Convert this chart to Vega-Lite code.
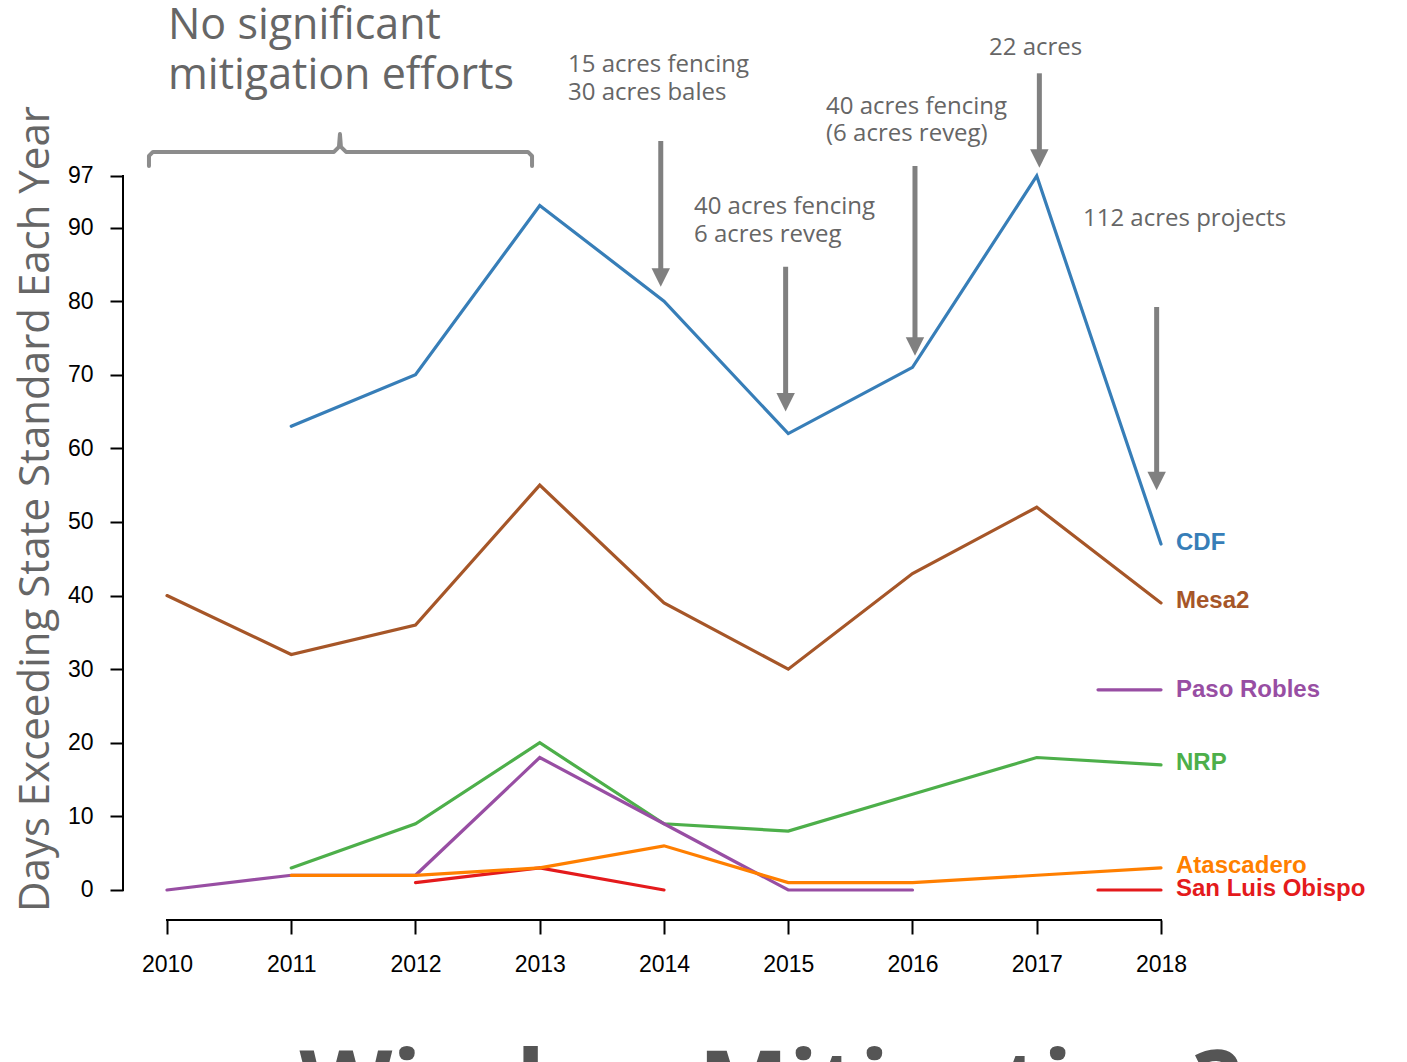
{
  "$schema": "https://vega.github.io/schema/vega-lite/v6.json",
  "width": 1038,
  "height": 910,
  "autosize": "none",
  "padding": {"left": 123, "top": 10, "right": 246, "bottom": 142},
  "background": "white",
  "config": {"view": {"stroke": null}},
  "datasets": {
    "series": [
      {"site": "CDF", "year": 2011, "days": 63},
      {"site": "CDF", "year": 2012, "days": 70},
      {"site": "CDF", "year": 2013, "days": 93},
      {"site": "CDF", "year": 2014, "days": 80},
      {"site": "CDF", "year": 2015, "days": 62},
      {"site": "CDF", "year": 2016, "days": 71},
      {"site": "CDF", "year": 2017, "days": 97},
      {"site": "CDF", "year": 2018, "days": 47},
      {"site": "Mesa2", "year": 2010, "days": 40},
      {"site": "Mesa2", "year": 2011, "days": 32},
      {"site": "Mesa2", "year": 2012, "days": 36},
      {"site": "Mesa2", "year": 2013, "days": 55},
      {"site": "Mesa2", "year": 2014, "days": 39},
      {"site": "Mesa2", "year": 2015, "days": 30},
      {"site": "Mesa2", "year": 2016, "days": 43},
      {"site": "Mesa2", "year": 2017, "days": 52},
      {"site": "Mesa2", "year": 2018, "days": 39},
      {"site": "NRP", "year": 2011, "days": 3},
      {"site": "NRP", "year": 2012, "days": 9},
      {"site": "NRP", "year": 2013, "days": 20},
      {"site": "NRP", "year": 2014, "days": 9},
      {"site": "NRP", "year": 2015, "days": 8},
      {"site": "NRP", "year": 2016, "days": 13},
      {"site": "NRP", "year": 2017, "days": 18},
      {"site": "NRP", "year": 2018, "days": 17},
      {"site": "Paso Robles", "year": 2010, "days": 0},
      {"site": "Paso Robles", "year": 2011, "days": 2},
      {"site": "Paso Robles", "year": 2012, "days": 2},
      {"site": "Paso Robles", "year": 2013, "days": 18},
      {"site": "Paso Robles", "year": 2014, "days": 9},
      {"site": "Paso Robles", "year": 2015, "days": 0},
      {"site": "Paso Robles", "year": 2016, "days": 0},
      {"site": "San Luis Obispo", "year": 2012, "days": 1},
      {"site": "San Luis Obispo", "year": 2013, "days": 3},
      {"site": "San Luis Obispo", "year": 2014, "days": 0},
      {"site": "Atascadero", "year": 2011, "days": 2},
      {"site": "Atascadero", "year": 2012, "days": 2},
      {"site": "Atascadero", "year": 2013, "days": 3},
      {"site": "Atascadero", "year": 2014, "days": 6},
      {"site": "Atascadero", "year": 2015, "days": 1},
      {"site": "Atascadero", "year": 2016, "days": 1},
      {"site": "Atascadero", "year": 2017, "days": 2},
      {"site": "Atascadero", "year": 2018, "days": 3}
    ],
    "keys": [
      {"site": "Paso Robles", "year": 2017.493, "days": 27.2},
      {"site": "Paso Robles", "year": 2018, "days": 27.2},
      {"site": "San Luis Obispo", "year": 2017.493, "days": 0},
      {"site": "San Luis Obispo", "year": 2018, "days": 0}
    ],
    "labels": [
      {"site": "CDF", "year": 2018, "days": 47.2},
      {"site": "Mesa2", "year": 2018, "days": 39.2},
      {"site": "Paso Robles", "year": 2018, "days": 27.2},
      {"site": "NRP", "year": 2018, "days": 17.2},
      {"site": "Atascadero", "year": 2018, "days": 3.2},
      {"site": "San Luis Obispo", "year": 2018, "days": 0.2}
    ],
    "arrows": [
      {"year": 2013.974, "top": 101.75, "head": 83.21},
      {"year": 2014.979, "top": 84.68, "head": 66.25},
      {"year": 2016.02, "top": 98.36, "head": 73.84},
      {"year": 2017.021, "top": 110.95, "head": 99.38},
      {"year": 2017.965, "top": 79.2, "head": 55.56}
    ],
    "notes": [
      {"text": "15 acres fencing", "year": 2013.227, "days": 111.13},
      {"text": "30 acres bales", "year": 2013.227, "days": 107.33},
      {"text": "40 acres fencing", "year": 2015.304, "days": 105.44},
      {"text": "(6 acres reveg)", "year": 2015.304, "days": 101.75},
      {"text": "22 acres", "year": 2016.616, "days": 113.44},
      {"text": "40 acres fencing", "year": 2014.241, "days": 91.84},
      {"text": "6 acres reveg", "year": 2014.241, "days": 88.03},
      {"text": "112 acres projects", "year": 2017.372, "days": 90.21}
    ],
    "bignotes": [
      {"text": "No significant", "year": 2010.008, "days": 115.61},
      {"text": "mitigation efforts", "year": 2010.008, "days": 108.82}
    ],
    "bracket": [
      {"i": 1, "year": 2009.855, "days": 98.36},
      {"i": 2, "year": 2009.855, "days": 99.72},
      {"i": 3, "year": 2009.887, "days": 100.27},
      {"i": 4, "year": 2011.344, "days": 100.27},
      {"i": 5, "year": 2011.384, "days": 100.95},
      {"i": 6, "year": 2011.392, "days": 102.7},
      {"i": 7, "year": 2011.4, "days": 100.95},
      {"i": 8, "year": 2011.441, "days": 100.27},
      {"i": 9, "year": 2012.905, "days": 100.27},
      {"i": 10, "year": 2012.938, "days": 99.72},
      {"i": 11, "year": 2012.938, "days": 98.36}
    ],
    "heading": [
      {"text": "Wind or Mitigation?", "year": 2014.853, "days": -31.3}
    ]
  },
  "layer": [
    {
      "data": {"name": "series"},
      "mark": {"type": "line", "strokeWidth": 3.2, "strokeCap": "round"},
      "encoding": {
        "x": {
          "field": "year", "type": "quantitative",
          "scale": {"domain": [2009.646, 2018], "nice": false, "zero": false},
          "axis": {
            "values": [2010, 2011, 2012, 2013, 2014, 2015, 2016, 2017, 2018],
            "format": "d", "domain": false, "grid": false,
            "tickSize": 14, "tickWidth": 2, "tickColor": "#000000",
            "labelFont": "Liberation Sans", "labelFontSize": 23, "labelColor": "#000000",
            "labelPadding": 19, "labelFlush": false, "labelOverlap": false,
            "title": null
          }
        },
        "y": {
          "field": "days", "type": "quantitative",
          "scale": {"domain": [-4.0757, 119.55], "nice": false, "zero": false},
          "axis": {
            "values": [0, 10, 20, 30, 40, 50, 60, 70, 80, 90, 97],
            "domain": false, "grid": false,
            "tickSize": 13, "tickWidth": 2, "tickColor": "#000000",
            "labelFont": "Liberation Sans", "labelFontSize": 23, "labelColor": "#000000",
            "labelPadding": 17, "labelFlush": false, "labelOverlap": false,
            "title": "Days Exceeding State Standard Each Year",
            "titleFont": "Open Sans", "titleFontSize": 42, "titleFontWeight": "normal",
            "titleColor": "#666666", "titleX": -75, "titleY": 498.5,
            "titleAngle": 270, "titleAlign": "center", "titleBaseline": "alphabetic"
          }
        },
        "color": {
          "field": "site", "type": "nominal",
          "scale": {
            "domain": ["CDF", "Mesa2", "Paso Robles", "NRP", "Atascadero", "San Luis Obispo"],
            "range": ["#377eb8", "#a65628", "#984ea3", "#4daf4a", "#ff7f00", "#e41a1c"]
          },
          "legend": null
        }
      }
    },
    {
      "data": {"name": "keys"},
      "mark": {"type": "line", "strokeWidth": 3.2, "strokeCap": "round"},
      "encoding": {
        "x": {"field": "year", "type": "quantitative"},
        "y": {"field": "days", "type": "quantitative"},
        "color": {"field": "site", "type": "nominal", "legend": null}
      }
    },
    {
      "data": {"values": [{}]},
      "mark": {"type": "rule", "strokeWidth": 2, "color": "#000000", "strokeCap": "square"},
      "encoding": {
        "x": {"datum": 2009.646, "type": "quantitative"},
        "y": {"datum": 0, "type": "quantitative"},
        "y2": {"datum": 97}
      }
    },
    {
      "data": {"values": [{}]},
      "mark": {"type": "rule", "strokeWidth": 2, "color": "#000000", "strokeCap": "square"},
      "encoding": {
        "x": {"datum": 2010, "type": "quantitative"},
        "x2": {"datum": 2018},
        "y": {"datum": -4.0757, "type": "quantitative"}
      }
    },
    {
      "data": {"name": "arrows"},
      "mark": {"type": "rule", "strokeWidth": 5, "color": "#808080"},
      "encoding": {
        "x": {"field": "year", "type": "quantitative"},
        "y": {"field": "top", "type": "quantitative"},
        "y2": {"field": "head"}
      }
    },
    {
      "data": {"name": "arrows"},
      "mark": {"type": "point", "shape": "M-1,-1L1,-1L0,1Z", "filled": true, "size": 340, "color": "#808080", "opacity": 1, "strokeWidth": 0},
      "encoding": {
        "x": {"field": "year", "type": "quantitative"},
        "y": {"field": "head", "type": "quantitative"}
      }
    },
    {
      "data": {"name": "bracket"},
      "mark": {"type": "line", "strokeWidth": 4, "color": "#8c8c8c", "strokeJoin": "round", "strokeCap": "round"},
      "encoding": {
        "x": {"field": "year", "type": "quantitative"},
        "y": {"field": "days", "type": "quantitative"},
        "order": {"field": "i", "type": "quantitative"}
      }
    },
    {
      "data": {"name": "notes"},
      "mark": {"type": "text", "align": "left", "baseline": "alphabetic", "font": "Open Sans", "fontSize": 24, "color": "#666666"},
      "encoding": {
        "x": {"field": "year", "type": "quantitative"},
        "y": {"field": "days", "type": "quantitative"},
        "text": {"field": "text"}
      }
    },
    {
      "data": {"name": "bignotes"},
      "mark": {"type": "text", "align": "left", "baseline": "alphabetic", "font": "Open Sans", "fontSize": 43, "color": "#666666"},
      "encoding": {
        "x": {"field": "year", "type": "quantitative"},
        "y": {"field": "days", "type": "quantitative"},
        "text": {"field": "text"}
      }
    },
    {
      "data": {"name": "labels"},
      "mark": {"type": "text", "align": "left", "baseline": "middle", "dx": 15, "font": "Liberation Sans", "fontSize": 24, "fontWeight": "bold"},
      "encoding": {
        "x": {"field": "year", "type": "quantitative"},
        "y": {"field": "days", "type": "quantitative"},
        "text": {"field": "site"},
        "color": {"field": "site", "type": "nominal", "legend": null}
      }
    },
    {
      "data": {"name": "heading"},
      "mark": {"type": "text", "align": "center", "baseline": "alphabetic", "font": "Open Sans", "fontSize": 96, "fontWeight": "bold", "color": "#555555"},
      "encoding": {
        "x": {"field": "year", "type": "quantitative"},
        "y": {"field": "days", "type": "quantitative"},
        "text": {"field": "text"}
      }
    }
  ]
}
